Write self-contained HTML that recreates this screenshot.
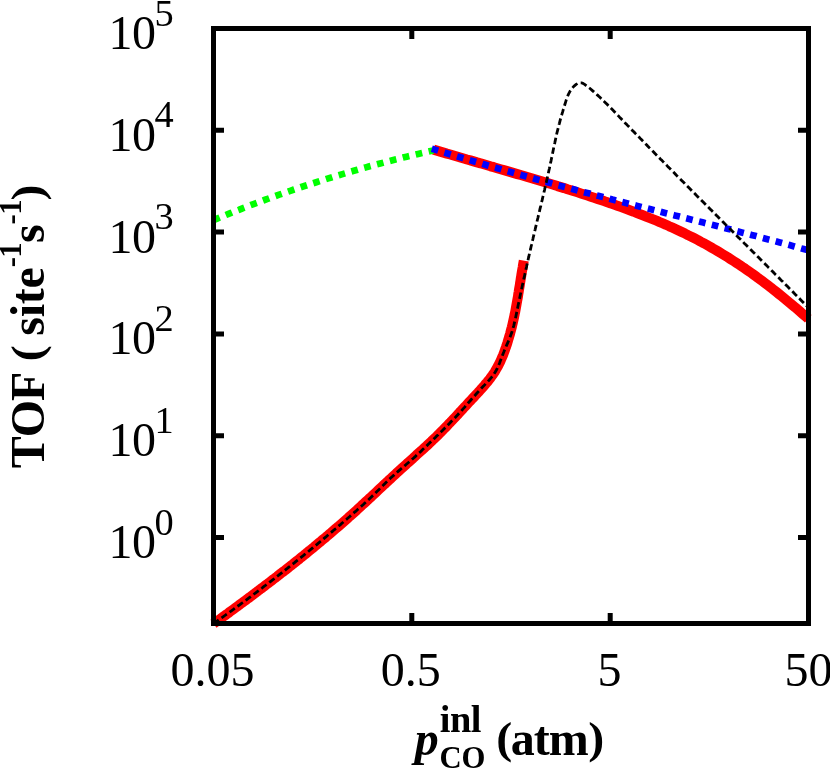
<!DOCTYPE html>
<html><head><meta charset="utf-8"><title>TOF plot</title>
<style>
html,body{margin:0;padding:0;background:#fff;}
body{width:830px;height:769px;overflow:hidden;position:relative;font-family:"Liberation Serif",serif;}
svg{position:absolute;left:0;top:0;display:block;}
text{font-family:"Liberation Serif",serif;fill:#000;}
.t{font-size:48px;}
.s{font-size:38.4px;}
.u{font-size:30.7px;}
.b{font-weight:bold;}
</style></head><body>
<svg width="830" height="769" viewBox="0 0 830 769">
<rect x="0" y="0" width="830" height="769" fill="#fff"/>
<g fill="none" stroke-linejoin="round">
<path d="M213.5,623.8 L215.3,622.4 L217.1,621.1 L219.0,619.8 L220.8,618.5 L222.6,617.1 L224.4,615.8 L226.3,614.5 L228.1,613.2 L229.9,611.8 L231.7,610.5 L233.5,609.2 L235.4,607.8 L237.2,606.5 L239.0,605.1 L240.8,603.8 L242.6,602.5 L244.4,601.1 L246.3,599.8 L248.1,598.4 L249.9,597.1 L251.7,595.7 L253.5,594.4 L255.3,593.0 L257.1,591.6 L258.9,590.3 L260.7,588.9 L262.5,587.6 L264.3,586.2 L266.1,584.8 L267.9,583.5 L269.7,582.1 L271.5,580.7 L273.3,579.3 L275.1,578.0 L276.9,576.6 L278.6,575.2 L280.4,573.8 L282.2,572.4 L284.0,571.1 L285.8,569.7 L287.6,568.3 L289.3,566.9 L291.1,565.5 L292.9,564.1 L294.6,562.7 L296.4,561.3 L298.2,559.9 L299.9,558.4 L301.7,557.0 L303.5,555.6 L305.2,554.2 L307.0,552.8 L308.7,551.3 L310.5,549.9 L312.2,548.5 L314.0,547.1 L315.7,545.6 L317.4,544.2 L319.2,542.7 L320.9,541.3 L322.6,539.8 L324.4,538.4 L326.1,536.9 L327.8,535.5 L329.5,534.0 L331.3,532.6 L333.0,531.1 L334.7,529.6 L336.4,528.1 L338.1,526.7 L339.8,525.2 L341.5,523.7 L343.2,522.2 L344.9,520.7 L346.6,519.2 L348.3,517.7 L349.9,516.2 L351.6,514.7 L353.3,513.2 L355.0,511.7 L356.7,510.2 L358.3,508.7 L360.0,507.1 L361.6,505.6 L363.3,504.1 L365.0,502.5 L366.6,501.0 L368.3,499.5 L369.9,497.9 L371.6,496.4 L373.2,494.9 L374.9,493.3 L376.5,491.8 L378.2,490.2 L379.8,488.7 L381.5,487.1 L383.1,485.6 L384.8,484.1 L386.4,482.5 L388.1,481.0 L389.7,479.4 L391.4,477.9 L393.0,476.4 L394.7,474.8 L396.3,473.3 L398.0,471.8 L399.7,470.3 L401.3,468.7 L403.0,467.2 L404.7,465.7 L406.4,464.2 L408.0,462.7 L409.7,461.2 L411.4,459.7 L413.1,458.2 L414.8,456.6 L416.4,455.1 L418.1,453.6 L419.8,452.1 L421.5,450.6 L423.1,449.1 L424.8,447.5 L426.5,446.0 L428.1,444.5 L429.8,442.9 L431.4,441.4 L433.0,439.8 L434.7,438.3 L436.3,436.7 L437.9,435.1 L439.5,433.5 L441.1,431.9 L442.7,430.3 L444.2,428.7 L445.8,427.1 L447.4,425.5 L448.9,423.8 L450.5,422.2 L452.0,420.6 L453.6,418.9 L455.1,417.3 L456.7,415.6 L458.2,414.0 L459.7,412.3 L461.3,410.6 L462.8,409.0 L464.3,407.3 L465.9,405.7 L467.4,404.0 L468.9,402.3 L470.5,400.7 L472.0,399.0 L473.6,397.4 L475.1,395.7 L476.6,394.1 L478.2,392.4 L479.7,390.7 L481.2,389.0 L482.7,387.4 L484.2,385.7 L485.6,383.9 L487.1,382.2 L488.5,380.5 L489.9,378.7 L491.2,376.9 L492.5,375.1 L493.8,373.2 L495.0,371.4 L496.1,369.4 L497.2,367.5 L498.3,365.5 L499.3,363.5 L500.3,361.5 L501.2,359.4 L502.1,357.3 L503.0,355.3 L503.8,353.1 L504.6,351.0 L505.3,348.9 L506.1,346.7 L506.8,344.6 L507.5,342.4 L508.1,340.3 L508.8,338.1 L509.4,335.9 L510.1,333.7 L510.6,331.6 L511.2,329.4 L511.8,327.2 L512.3,325.0 L512.8,322.8 L513.3,320.6 L513.8,318.4 L514.3,316.2 L514.7,314.0 L515.2,311.8 L515.6,309.6 L516.0,307.4 L516.4,305.1 L516.8,302.9 L517.2,300.7 L517.6,298.5 L518.0,296.3 L518.3,294.0 L518.7,291.8 L519.0,289.6 L519.4,287.3 L519.8,285.1 L520.1,282.9 L520.5,280.7 L520.8,278.4 L521.2,276.2 L521.5,274.0 L521.9,271.7 L522.3,269.5 L522.7,267.3 L523.0,265.1 L523.4,262.8 L523.8,260.6" stroke="#ff0000" stroke-width="10"/>
<path d="M433.5,149.6 L436.9,150.6 L440.2,151.6 L443.6,152.6 L446.9,153.6 L450.3,154.5 L453.6,155.5 L457.0,156.5 L460.3,157.5 L463.7,158.5 L467.0,159.5 L470.4,160.4 L473.7,161.4 L477.1,162.4 L480.5,163.3 L483.8,164.3 L487.2,165.3 L490.5,166.3 L493.9,167.2 L497.2,168.2 L500.6,169.2 L503.9,170.1 L507.3,171.1 L510.7,172.1 L514.0,173.1 L517.4,174.1 L520.7,175.0 L524.1,176.0 L527.4,177.0 L530.8,178.0 L534.1,179.0 L537.5,180.0 L540.8,181.0 L544.2,182.0 L547.5,183.0 L550.9,184.0 L554.2,185.0 L557.5,186.1 L560.9,187.1 L564.2,188.1 L567.5,189.2 L570.9,190.2 L574.2,191.3 L577.5,192.3 L580.9,193.4 L584.2,194.5 L587.5,195.6 L590.8,196.7 L594.1,197.8 L597.5,198.9 L600.8,200.0 L604.1,201.1 L607.4,202.3 L610.7,203.4 L614.0,204.6 L617.3,205.7 L620.6,206.9 L623.9,208.1 L627.2,209.3 L630.4,210.5 L633.7,211.7 L637.0,213.0 L640.2,214.2 L643.5,215.5 L646.7,216.8 L650.0,218.1 L653.2,219.4 L656.5,220.7 L659.7,222.1 L662.9,223.4 L666.1,224.8 L669.3,226.3 L672.5,227.7 L675.6,229.1 L678.8,230.6 L682.0,232.1 L685.1,233.6 L688.2,235.2 L691.4,236.7 L694.5,238.3 L697.6,239.9 L700.6,241.6 L703.7,243.2 L706.8,244.9 L709.8,246.6 L712.8,248.4 L715.9,250.1 L718.9,251.9 L721.9,253.7 L724.8,255.5 L727.8,257.3 L730.7,259.2 L733.7,261.1 L736.6,263.0 L739.5,264.9 L742.4,266.9 L745.3,268.8 L748.2,270.8 L751.0,272.8 L753.9,274.9 L756.7,276.9 L759.5,279.0 L762.3,281.1 L765.1,283.2 L767.9,285.3 L770.7,287.4 L773.4,289.6 L776.2,291.8 L778.9,294.0 L781.6,296.2 L784.3,298.4 L787.0,300.6 L789.7,302.8 L792.4,305.1 L795.1,307.3 L797.7,309.6 L800.4,311.9 L803.0,314.2 L805.7,316.5 L808.3,318.8" stroke="#ff0000" stroke-width="10"/>
<path d="M213.5,220.1 L217.1,218.6 L220.7,217.1 L224.3,215.6 L228.0,214.1 L231.6,212.7 L235.2,211.2 L238.9,209.8 L242.5,208.3 L246.2,206.9 L249.8,205.5 L253.5,204.1 L257.2,202.8 L260.8,201.4 L264.5,200.0 L268.2,198.7 L271.9,197.3 L275.5,196.0 L279.2,194.7 L282.9,193.4 L286.6,192.1 L290.3,190.8 L294.0,189.5 L297.7,188.3 L301.4,187.0 L305.2,185.8 L308.9,184.6 L312.6,183.4 L316.3,182.2 L320.0,181.0 L323.8,179.8 L327.5,178.6 L331.3,177.5 L335.0,176.3 L338.8,175.2 L342.5,174.1 L346.3,173.0 L350.0,171.9 L353.8,170.8 L357.5,169.7 L361.3,168.6 L365.1,167.6 L368.8,166.5 L372.6,165.5 L376.4,164.5 L380.2,163.5 L384.0,162.5 L387.8,161.5 L391.6,160.5 L395.3,159.5 L399.1,158.6 L402.9,157.6 L406.7,156.7 L410.6,155.8 L414.4,154.9 L418.2,154.0 L422.0,153.1 L425.8,152.2 L429.6,151.3 L433.4,150.5" stroke="#00ff00" stroke-width="6.7" stroke-dasharray="6.7 6.6"/>
<path d="M431.8,148.7 L436.5,150.1 L441.2,151.6 L445.9,153.0 L450.7,154.5 L455.4,155.9 L460.1,157.3 L464.9,158.7 L469.6,160.1 L474.3,161.5 L479.1,162.9 L483.8,164.3 L488.6,165.7 L493.3,167.1 L498.1,168.4 L502.8,169.8 L507.6,171.2 L512.3,172.5 L517.1,173.9 L521.8,175.2 L526.6,176.5 L531.3,177.8 L536.1,179.2 L540.8,180.5 L545.6,181.8 L550.4,183.1 L555.1,184.4 L559.9,185.7 L564.7,187.0 L569.5,188.2 L574.2,189.5 L579.0,190.8 L583.8,192.1 L588.5,193.3 L593.3,194.6 L598.1,195.8 L602.9,197.1 L607.7,198.3 L612.4,199.6 L617.2,200.8 L622.0,202.0 L626.8,203.2 L631.6,204.5 L636.4,205.7 L641.2,206.9 L645.9,208.1 L650.7,209.3 L655.5,210.5 L660.3,211.7 L665.1,213.0 L669.9,214.2 L674.7,215.4 L679.5,216.6 L684.3,217.8 L689.1,219.0 L693.9,220.2 L698.6,221.4 L703.4,222.6 L708.2,223.8 L713.0,225.0 L717.8,226.2 L722.6,227.5 L727.4,228.7 L732.2,229.9 L736.9,231.1 L741.7,232.4 L746.5,233.6 L751.3,234.9 L756.1,236.1 L760.8,237.4 L765.6,238.7 L770.4,239.9 L775.2,241.2 L779.9,242.5 L784.7,243.8 L789.5,245.1 L794.2,246.4 L799.0,247.8 L803.7,249.1 L808.5,250.4" stroke="#0000ff" stroke-width="6.7" stroke-dasharray="6.7 6.49"/>
<path d="M213.4,623.7 L215.1,622.5 L216.7,621.4 L218.3,620.2 L220.0,619.0 L221.6,617.9 L223.3,616.7 L224.9,615.5 L226.5,614.3 L228.2,613.2 L229.8,612.0 L231.4,610.8 L233.1,609.6 L234.7,608.4 L236.3,607.2 L238.0,606.0 L239.6,604.9 L241.2,603.7 L242.8,602.5 L244.4,601.3 L246.1,600.1 L247.7,598.9 L249.3,597.7 L250.9,596.5 L252.5,595.2 L254.1,594.0 L255.7,592.8 L257.3,591.6 L258.9,590.4 L260.5,589.2 L262.1,588.0 L263.7,586.7 L265.3,585.5 L266.9,584.3 L268.5,583.1 L270.1,581.8 L271.7,580.6 L273.3,579.4 L274.9,578.1 L276.5,576.9 L278.1,575.7 L279.7,574.4 L281.3,573.2 L282.8,571.9 L284.4,570.7 L286.0,569.4 L287.6,568.2 L289.2,566.9 L290.7,565.7 L292.3,564.4 L293.9,563.2 L295.4,561.9 L297.0,560.6 L298.6,559.4 L300.1,558.1 L301.7,556.8 L303.3,555.6 L304.8,554.3 L306.4,553.0 L308.0,551.8 L309.5,550.5 L311.1,549.2 L312.6,547.9 L314.2,546.6 L315.7,545.4 L317.3,544.1 L318.8,542.8 L320.4,541.5 L321.9,540.2 L323.5,538.9 L325.0,537.6 L326.6,536.3 L328.1,535.0 L329.6,533.7 L331.2,532.4 L332.7,531.1 L334.2,529.8 L335.8,528.5 L337.3,527.2 L338.8,525.9 L340.4,524.6 L341.9,523.3 L343.4,522.0 L344.9,520.6 L346.5,519.3 L348.0,518.0 L349.5,516.7 L351.0,515.3 L352.5,514.0 L354.0,512.7 L355.6,511.4 L357.1,510.0 L358.6,508.7 L360.1,507.4 L361.6,506.0 L363.1,504.7 L364.6,503.3 L366.1,502.0 L367.5,500.6 L369.0,499.2 L370.5,497.8 L371.9,496.4 L373.4,495.0 L374.8,493.6 L376.2,492.2 L377.7,490.8 L379.1,489.4 L380.5,487.9 L381.9,486.5 L383.4,485.1 L384.8,483.7 L386.2,482.3 L387.7,480.9 L389.1,479.5 L390.6,478.1 L392.1,476.7 L393.6,475.4 L395.1,474.0 L396.6,472.7 L398.1,471.4 L399.6,470.1 L401.2,468.7 L402.7,467.4 L404.2,466.1 L405.8,464.8 L407.3,463.5 L408.8,462.2 L410.3,460.9 L411.9,459.5 L413.4,458.2 L414.9,456.9 L416.3,455.5 L417.8,454.1 L419.3,452.8 L420.8,451.4 L422.2,450.0 L423.7,448.6 L425.1,447.2 L426.6,445.9 L428.0,444.5 L429.5,443.1 L430.9,441.7 L432.4,440.3 L433.8,438.9 L435.3,437.5 L436.7,436.1 L438.2,434.7 L439.6,433.2 L441.1,431.8 L442.5,430.4 L443.9,429.0 L445.4,427.6 L446.8,426.2 L448.2,424.7 L449.6,423.3 L451.0,421.8 L452.4,420.4 L453.8,418.9 L455.2,417.5 L456.6,416.0 L458.0,414.5 L459.3,413.0 L460.7,411.6 L462.0,410.1 L463.3,408.6 L464.7,407.1 L466.0,405.5 L467.3,404.0 L468.6,402.5 L470.0,401.0 L471.3,399.5 L472.6,398.0 L473.9,396.5 L475.3,395.0 L476.6,393.5 L478.0,392.0 L479.4,390.5 L480.7,389.0 L482.1,387.5 L483.5,386.1 L484.9,384.6 L486.3,383.1 L487.7,381.6 L489.1,380.2 L490.4,378.6 L491.7,377.1 L492.9,375.5 L494.0,373.9 L495.1,372.2 L496.1,370.5 L497.1,368.7 L497.9,366.9 L498.7,365.1 L499.5,363.2 L500.2,361.3 L500.9,359.4 L501.7,357.5 L502.4,355.6 L503.1,353.7 L503.9,351.8 L504.6,350.0 L505.4,348.1 L506.2,346.2 L507.0,344.4 L507.8,342.6 L508.6,340.7 L509.4,338.9 L510.1,337.0 L510.8,335.1 L511.5,333.3 L512.1,331.4 L512.7,329.4 L513.2,327.5 L513.8,325.6 L514.2,323.7 L514.7,321.7 L515.2,319.7 L515.6,317.8 L516.0,315.8 L516.4,313.8 L516.8,311.9 L517.2,309.9 L517.6,307.9 L518.0,306.0 L518.4,304.0 L518.9,302.0 L519.3,300.0 L519.7,298.1 L520.1,296.1 L520.5,294.1 L520.9,292.2 L521.4,290.2 L521.8,288.2 L522.2,286.3 L522.6,284.3 L523.1,282.3 L523.5,280.3 L523.9,278.4 L524.4,276.4 L524.8,274.4 L525.2,272.5 L525.7,270.5 L526.1,268.5 L526.6,266.6 L527.0,264.6 L527.4,262.6 L527.9,260.7 L528.3,258.7 L528.8,256.7 L529.2,254.8 L529.7,252.8 L530.1,250.9 L530.6,248.9 L531.0,246.9 L531.5,245.0 L531.9,243.0 L532.4,241.0 L532.9,239.1 L533.3,237.1 L533.8,235.2 L534.2,233.2 L534.7,231.2 L535.2,229.3 L535.6,227.3 L536.1,225.4 L536.6,223.4 L537.0,221.5 L537.5,219.5 L538.0,217.5 L538.4,215.6 L538.9,213.6 L539.4,211.7 L539.8,209.7 L540.3,207.7 L540.8,205.8 L541.2,203.8 L541.7,201.9 L542.2,199.9 L542.6,198.0 L543.1,196.0 L543.6,194.0 L544.0,192.1 L544.5,190.1 L544.9,188.2 L545.4,186.2 L545.8,184.2 L546.3,182.3 L546.7,180.3 L547.2,178.3 L547.6,176.4 L548.1,174.4 L548.5,172.4 L548.9,170.5 L549.4,168.5 L549.8,166.5 L550.2,164.6 L550.6,162.6 L551.1,160.6 L551.5,158.6 L551.9,156.7 L552.3,154.7 L552.7,152.7 L553.1,150.7 L553.5,148.8 L553.9,146.8 L554.3,144.8 L554.8,142.8 L555.2,140.9 L555.6,138.9 L556.0,136.9 L556.5,135.0 L556.9,133.0 L557.4,131.1 L557.9,129.1 L558.4,127.2 L558.8,125.2 L559.4,123.3 L559.9,121.3 L560.4,119.4 L561.0,117.5 L561.5,115.6 L562.1,113.6 L562.7,111.7 L563.2,109.8 L563.8,107.9 L564.4,106.0 L565.0,104.0 L565.6,102.1 L566.2,100.1 L566.9,98.2 L567.6,96.3 L568.4,94.4 L569.3,92.6 L570.3,90.8 L571.5,89.0 L572.9,87.4 L574.4,85.8 L576.1,84.4 L577.8,83.4 L579.6,82.8 L581.3,82.8 L583.0,83.4 L584.6,84.4 L586.2,85.6 L587.8,86.8 L589.4,88.0 L590.9,89.3 L592.4,90.6 L593.9,91.9 L595.4,93.2 L596.9,94.6 L598.4,95.9 L599.9,97.3 L601.3,98.7 L602.8,100.1 L604.2,101.5 L605.7,102.9 L607.1,104.3 L608.5,105.8 L609.9,107.2 L611.3,108.6 L612.8,110.1 L614.2,111.5 L615.6,113.0 L617.0,114.4 L618.4,115.9 L619.8,117.4 L621.2,118.8 L622.6,120.3 L624.0,121.7 L625.4,123.2 L626.8,124.6 L628.2,126.1 L629.6,127.5 L631.0,129.0 L632.4,130.4 L633.8,131.8 L635.2,133.3 L636.7,134.7 L638.1,136.2 L639.5,137.6 L640.9,139.1 L642.3,140.5 L643.7,141.9 L645.1,143.4 L646.5,144.8 L647.9,146.3 L649.3,147.7 L650.8,149.1 L652.2,150.6 L653.6,152.0 L655.0,153.5 L656.4,154.9 L657.8,156.3 L659.2,157.8 L660.6,159.2 L662.1,160.6 L663.5,162.1 L664.9,163.5 L666.3,164.9 L667.7,166.4 L669.1,167.8 L670.6,169.2 L672.0,170.7 L673.4,172.1 L674.8,173.5 L676.2,175.0 L677.6,176.4 L679.1,177.8 L680.5,179.3 L681.9,180.7 L683.3,182.1 L684.7,183.5 L686.1,185.0 L687.6,186.4 L689.0,187.8 L690.4,189.2 L691.8,190.7 L693.2,192.1 L694.7,193.5 L696.1,195.0 L697.5,196.4 L698.9,197.8 L700.3,199.2 L701.8,200.7 L703.2,202.1 L704.6,203.5 L706.0,204.9 L707.5,206.4 L708.9,207.8 L710.3,209.2 L711.7,210.6 L713.1,212.0 L714.6,213.5 L716.0,214.9 L717.4,216.3 L718.8,217.7 L720.2,219.2 L721.7,220.6 L723.1,222.0 L724.5,223.4 L725.9,224.9 L727.4,226.3 L728.8,227.7 L730.2,229.1 L731.6,230.5 L733.1,232.0 L734.5,233.4 L735.9,234.8 L737.3,236.2 L738.7,237.7 L740.2,239.1 L741.6,240.5 L743.0,241.9 L744.4,243.4 L745.9,244.8 L747.3,246.2 L748.7,247.6 L750.1,249.0 L751.6,250.5 L753.0,251.9 L754.4,253.3 L755.8,254.7 L757.2,256.2 L758.7,257.6 L760.1,259.0 L761.5,260.4 L762.9,261.9 L764.4,263.3 L765.8,264.7 L767.2,266.1 L768.6,267.6 L770.1,269.0 L771.5,270.4 L772.9,271.8 L774.3,273.3 L775.7,274.7 L777.2,276.1 L778.6,277.5 L780.0,279.0 L781.4,280.4 L782.9,281.8 L784.3,283.3 L785.7,284.7 L787.1,286.1 L788.5,287.5 L790.0,289.0 L791.4,290.4 L792.8,291.8 L794.2,293.3 L795.6,294.7 L797.1,296.1 L798.5,297.6 L799.9,299.0 L801.3,300.4 L802.8,301.9 L804.2,303.3 L805.6,304.7 L807.0,306.2 L808.4,307.6" stroke="#000" stroke-width="2.8" stroke-dasharray="6.55 3.37"/>
</g>
<!-- frame -->
<rect x="213.5" y="28.5" width="595" height="595" fill="none" stroke="#000" stroke-width="5"/>
<g stroke="#000" stroke-width="5" fill="none">
<path d="M213.5,130.3H224 M213.5,232.1H224 M213.5,333.9H224 M213.5,435.7H224 M213.5,537.5H224"/>
<path d="M808.5,130.3H798 M808.5,232.1H798 M808.5,333.9H798 M808.5,435.7H798 M808.5,537.5H798"/>
<path d="M411.8,623.5V613 M610.2,623.5V613 M411.8,28.5V39 M610.2,28.5V39"/>
</g>
<g style="will-change:transform;filter:grayscale(1)">
<!-- y tick labels -->
<g class="t">
<text x="108.45" y="49.0" letter-spacing="-0.5">10</text><text class="s" x="154.5" y="25.5">5</text>
<text x="108.45" y="150.8" letter-spacing="-0.5">10</text><text class="s" x="154.5" y="127.3">4</text>
<text x="108.45" y="252.6" letter-spacing="-0.5">10</text><text class="s" x="154.5" y="229.1">3</text>
<text x="108.45" y="354.4" letter-spacing="-0.5">10</text><text class="s" x="154.5" y="330.9">2</text>
<text x="108.45" y="456.2" letter-spacing="-0.5">10</text><text class="s" x="154.5" y="432.7">1</text>
<text x="108.45" y="558.0" letter-spacing="-0.5">10</text><text class="s" x="154.5" y="534.5">0</text>
</g>
<!-- x tick labels -->
<g class="t" text-anchor="middle">
<text x="212.4" y="685.5">0.05</text>
<text x="410.8" y="685.5">0.5</text>
<text x="609.4" y="685.5">5</text>
<text x="808.5" y="685.5">50</text>
</g>
<!-- y label -->
<text class="t b" transform="translate(43.9,468.35) rotate(-90)">T</text>
<text class="t b" transform="translate(43.9,437.35) rotate(-90)">O</text>
<text class="t b" transform="translate(43.9,400.9) rotate(-90)">F</text>
<text class="t b" transform="translate(42.35,361.2) rotate(-90) scale(1,0.935)">(</text>
<text class="t b" transform="translate(43.9,335.65) rotate(-90)" letter-spacing="-0.3">site</text>
<text class="u b" transform="translate(20.8,267.3) rotate(-90)">-</text>
<text class="u b" transform="translate(20.8,257.65) rotate(-90)">1</text>
<text class="t b" transform="translate(43.9,243.05) rotate(-90)">s</text>
<text class="u b" transform="translate(20.8,224.45) rotate(-90)">-</text>
<text class="u b" transform="translate(20.8,214.8) rotate(-90)">1</text>
<text class="t b" transform="translate(42.35,200.4) rotate(-90) scale(1,0.935)">)</text>

<!-- x label -->
<g class="b">
<text x="414.65" y="755.2" class="t" font-style="italic">p</text>
<text x="439.8" y="731.5" class="s" letter-spacing="-0.5">inl</text>
<text x="439.4" y="768.3" class="u">CO</text>
<text transform="translate(496.2,752.75) scale(1,0.935)" class="t">(</text>
<text x="510.8" y="754.7" class="t" letter-spacing="-1">atm</text>
<text transform="translate(588.15,752.75) scale(1,0.935)" class="t">)</text>
</g>
</g>
</svg>
</body></html>
